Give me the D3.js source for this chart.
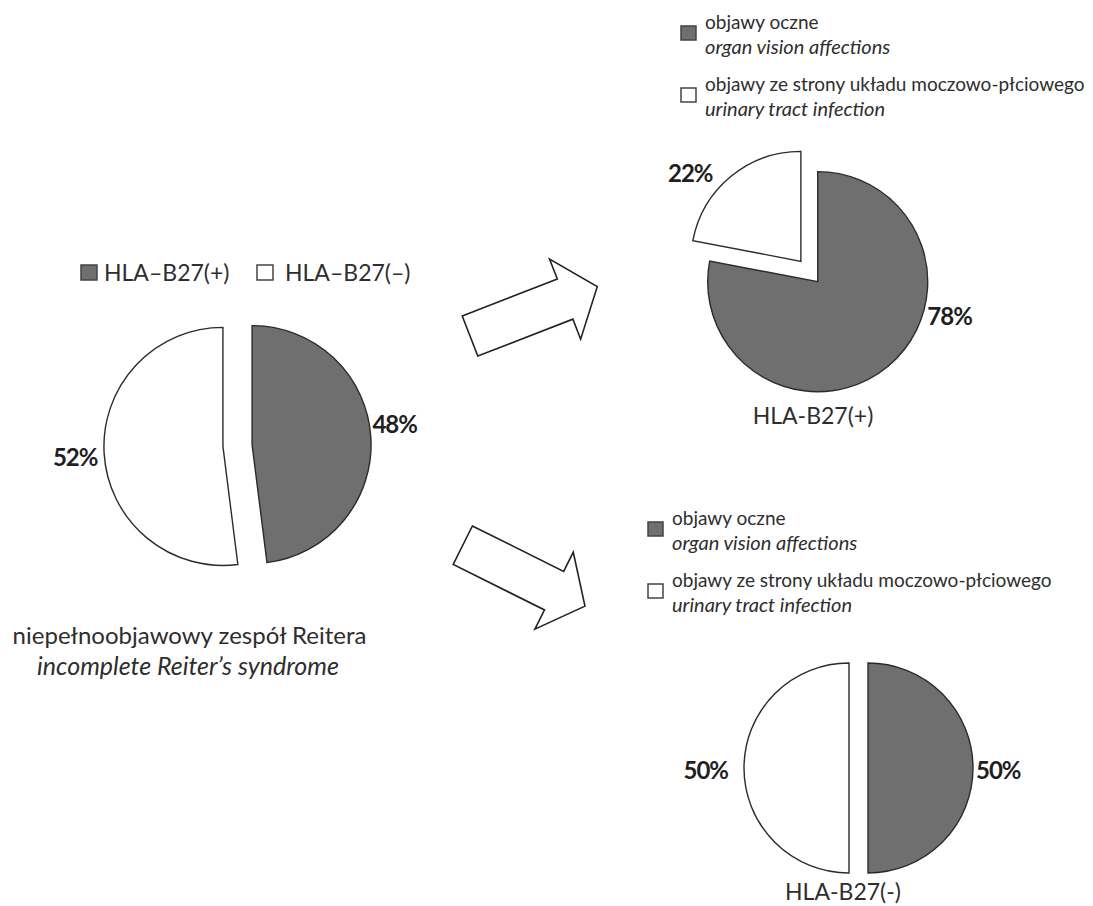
<!DOCTYPE html>
<html>
<head>
<meta charset="utf-8">
<script src="https://cdn.jsdelivr.net/npm/d3@7"></script>
<style>
  html, body { margin: 0; padding: 0; background: #fff; }
  svg { display: block; font-family: Lato, "Open Sans", sans-serif; }
</style>
</head>
<body>
<svg id="chart" width="1093" height="906"></svg>
<script>
// HLA-B27 status among patients with incomplete Reiter's syndrome
const groupCategories = ["HLA–B27(+)", "HLA–B27(–)"];
const groupValues = [48, 52];

// Leading symptoms within each HLA-B27 group
const symptomCategories = ["objawy oczne", "objawy ze strony układu moczowo-płciowego"];
const symptomCategoriesEn = ["organ vision affections", "urinary tract infection"];
const positiveValues = [78, 22];
const negativeValues = [50, 50];

const pieTitles = ["HLA-B27(+)", "HLA-B27(-)"];
const captionPl = "niepełnoobjawowy zespół Reitera";
const captionEn = "incomplete Reiter’s syndrome";

// ---- styling ----
const fillColor = d3.scaleOrdinal().domain([0, 1]).range(["#6f6f6f", "#ffffff"]);
const strokeColor = "#2b2b2b";
const textColor = "#2e2e2e";

const svg = d3.select("#chart");

// ---- pie layout: centre, radius, explode distance and label placement ----
const pieLayouts = [
  { values: groupValues, cx: 237.5, cy: 445.5, r: 119, explode: 14.6,
    labels: [{ angle: 80.5, pad: 3, anchor: "start" }, { angle: 265, pad: 7, anchor: "end" }] },
  { values: positiveValues, cx: 809.3, cy: 271.5, r: 110, explode: 13.2,
    labels: [{ angle: 107.6, pad: 5, anchor: "start" }, { angle: 315, pad: 15, anchor: "end" }] },
  { values: negativeValues, cx: 858.5, cy: 768, r: 105, explode: 9.5,
    labels: [{ angle: 91, pad: 3, anchor: "start" }, { angle: 269, pad: 16, anchor: "end" }] }
];

const pie = d3.pie().sort(null).value(d => d);
const rad = deg => deg * Math.PI / 180;
const polar = (a, r) => [Math.sin(a) * r, -Math.cos(a) * r];

pieLayouts.forEach(layout => {
  const arc = d3.arc().innerRadius(0).outerRadius(layout.r);
  const g = svg.append("g").attr("transform", `translate(${layout.cx},${layout.cy})`);
  const slices = pie(layout.values);

  const sliceG = g.selectAll("g.slice")
    .data(slices)
    .join("g")
    .attr("class", "slice")
    .attr("transform", d => {
      const [ox, oy] = polar((d.startAngle + d.endAngle) / 2, layout.explode);
      return `translate(${ox},${oy})`;
    });

  sliceG.append("path")
    .attr("d", arc)
    .attr("fill", d => fillColor(d.index))
    .attr("stroke", strokeColor)
    .attr("stroke-width", 1.4)
    .attr("stroke-linejoin", "miter");

  sliceG.append("text")
    .attr("x", d => polar(rad(layout.labels[d.index].angle), layout.r + layout.labels[d.index].pad)[0])
    .attr("y", d => polar(rad(layout.labels[d.index].angle), layout.r + layout.labels[d.index].pad)[1])
    .attr("dy", "0.36em")
    .attr("text-anchor", d => layout.labels[d.index].anchor)
    .attr("font-size", 24)
    .attr("font-weight", 700)
    .attr("letter-spacing", -1)
    .attr("fill", "#1f1f1f")
    .text(d => `${d.data}%`);
});

// ---- pie titles ----
svg.append("text").attr("x", 813).attr("y", 424).attr("text-anchor", "middle")
  .attr("font-size", 23).attr("fill", textColor).text(pieTitles[0]);
svg.append("text").attr("x", 843).attr("y", 900).attr("text-anchor", "middle")
  .attr("font-size", 23).attr("fill", textColor).text(pieTitles[1]);

// ---- caption under the main pie ----
svg.append("text").attr("x", 189.5).attr("y", 644).attr("text-anchor", "middle")
  .attr("font-size", 24).attr("fill", textColor).text(captionPl);
svg.append("text").attr("x", 188).attr("y", 675).attr("text-anchor", "middle")
  .attr("font-size", 25).attr("font-style", "italic").attr("fill", textColor).text(captionEn);

// ---- legend of the main pie ----
const groupLegendSquareX = [81, 257];
const groupLegendTextX = [104, 285];
const groupLegend = svg.append("g");
groupCategories.forEach((name, i) => {
  groupLegend.append("rect")
    .attr("x", groupLegendSquareX[i]).attr("y", 265).attr("width", 16).attr("height", 15)
    .attr("fill", fillColor(i)).attr("stroke", "#444").attr("stroke-width", 1.5);
  groupLegend.append("text")
    .attr("x", groupLegendTextX[i]).attr("y", 280.5)
    .attr("font-size", 23).attr("fill", textColor).text(name);
});

// ---- symptom legends (one above each sub-pie) ----
function symptomLegend(x, y) {
  const g = svg.append("g").attr("transform", `translate(${x},${y})`);
  symptomCategories.forEach((name, i) => {
    const top = i * 62;
    g.append("rect")
      .attr("x", 0).attr("y", top - 3).attr("width", 15).attr("height", 14)
      .attr("fill", fillColor(i)).attr("stroke", "#444").attr("stroke-width", 1.5);
    g.append("text").attr("x", 24).attr("y", top)
      .attr("font-size", 19).attr("fill", textColor).text(name);
    g.append("text").attr("x", 24).attr("y", top + 25)
      .attr("font-size", 20).attr("font-style", "italic").attr("fill", textColor)
      .text(symptomCategoriesEn[i]);
  });
}
symptomLegend(681, 29);
symptomLegend(648, 525);

// ---- block arrows leading from the main pie to the sub-pies ----
const arrowShape = [[0, -21.5], [102, -21.5], [102, -43], [136.5, 0], [102, 43], [102, 21.5], [0, 21.5]];
const arrowLine = d3.line().curve(d3.curveLinearClosed);
[{ x: 470, y: 336, rot: -21.2 }, { x: 462.8, y: 545.2, rot: 26.5 }].forEach(a => {
  svg.append("path")
    .attr("transform", `translate(${a.x},${a.y}) rotate(${a.rot})`)
    .attr("d", arrowLine(arrowShape))
    .attr("fill", "#fff")
    .attr("stroke", "#222")
    .attr("stroke-width", 1.6)
    .attr("stroke-linejoin", "miter");
});
</script>
</body>
</html>
